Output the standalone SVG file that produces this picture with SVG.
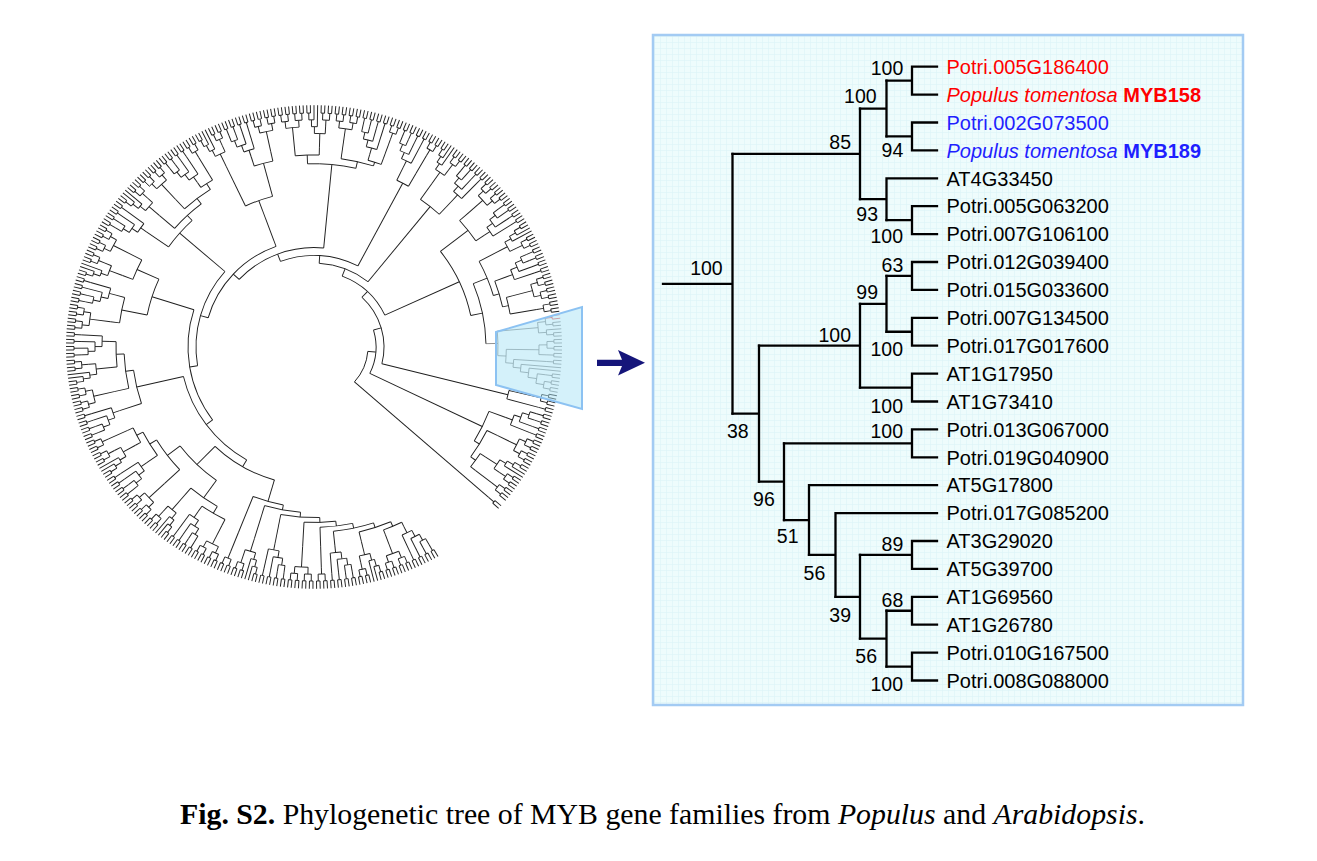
<svg xmlns="http://www.w3.org/2000/svg" width="1317" height="861" viewBox="0 0 1317 861">
<style>
.br{fill:none;stroke:#000;stroke-width:2.3;stroke-linecap:square}
.lb{font-family:"Liberation Sans",Arial,sans-serif;font-size:20px;fill:#000}
.bs{font-family:"Liberation Sans",Arial,sans-serif;font-size:19.5px;text-anchor:end;fill:#000}
.cap{font-family:"Liberation Serif","Times New Roman",serif;font-size:29.8px;fill:#000}
</style>
<defs>
<pattern id="grid" width="6" height="6" patternUnits="userSpaceOnUse">
<rect width="6" height="6" fill="#eefcfc"/>
<path d="M0,0.5H6M0.5,0V6" stroke="#dcf3f6" stroke-width="0.6" fill="none"/>
</pattern>
<g id="ch">
<path d="M240,0H248"/>
<path d="M240,0H248" transform="rotate(.84)"/>
<circle r="240" pathLength="360" stroke-dasharray=".84 400"/>
<path d="M233,0H240" transform="rotate(.42)"/>
</g>
<g id="q4">
<use href="#ch"/>
<use href="#ch" transform="rotate(1.68)"/>
<circle r="233" pathLength="360" stroke-dasharray="1.68 400" transform="rotate(.42)"/>
<path d="M226,0H233" transform="rotate(1.26)"/>
</g>
<g id="Q"><use href="#q4"/><path d="M205,0H226" transform="rotate(1.26)"/></g>
<g id="l4">
<use href="#ch"/>
<path d="M233,0H248" transform="rotate(1.68)"/>
<circle r="233" pathLength="360" stroke-dasharray="1.26 400" transform="rotate(.42)"/>
<path d="M226,0H233" transform="rotate(1.05)"/>
<path d="M226,0H248" transform="rotate(2.52)"/>
<circle r="226" pathLength="360" stroke-dasharray="1.47 400" transform="rotate(1.05)"/>
<path d="M219,0H226" transform="rotate(1.785)"/>
</g>
<g id="O">
<use href="#q4"/>
<use href="#q4" transform="rotate(3.36)"/>
<circle r="226" pathLength="360" stroke-dasharray="3.36 400" transform="rotate(1.26)"/>
<path d="M205,0H226" transform="rotate(2.94)"/>
</g>
<g id="P">
<use href="#l4"/>
<use href="#q4" transform="rotate(3.36)"/>
<path d="M219,0H226" transform="rotate(4.62)"/>
<circle r="219" pathLength="360" stroke-dasharray="2.835 400" transform="rotate(1.785)"/>
<path d="M205,0H219" transform="rotate(3.2)"/>
</g>
<g id="K">
<use href="#ch"/>
<use href="#ch" transform="rotate(1.68)"/>
<path d="M226,0H233" transform="rotate(.42)"/>
<path d="M226,0H233" transform="rotate(2.1)"/>
<circle r="226" pathLength="360" stroke-dasharray="1.68 400" transform="rotate(.42)"/>
<path d="M219,0H226" transform="rotate(1.26)"/>
<use href="#ch" transform="rotate(3.36)"/>
<path d="M219,0H233" transform="rotate(3.78)"/>
<circle r="219" pathLength="360" stroke-dasharray="2.52 400" transform="rotate(1.26)"/>
<path d="M212,0H219" transform="rotate(2.52)"/>
<use href="#ch" transform="rotate(5.04)"/>
<path d="M212,0H233" transform="rotate(5.46)"/>
<circle r="212" pathLength="360" stroke-dasharray="2.94 400" transform="rotate(2.52)"/>
<path d="M205,0H212" transform="rotate(3.99)"/>
</g>
</defs>
<rect width="1317" height="861" fill="#fff"/>

<g id="circular-tree" fill="none" stroke="#1e1e1e" stroke-width=".95" transform="translate(314 347) scale(1 0.975) rotate(1.5)">
<g id="clade-H">
<use href="#K" transform="rotate(58.5)"/><use href="#O" transform="rotate(65.22)"/><use href="#P" transform="rotate(71.94)"/><use href="#K" transform="rotate(78.66)"/><use href="#Q" transform="rotate(85.38)"/><use href="#O" transform="rotate(88.74)"/><use href="#K" transform="rotate(95.46)"/><use href="#P" transform="rotate(102.18)"/><use href="#Q" transform="rotate(108.9)"/>
<circle r="200" pathLength="360" stroke-dasharray="5.67 400" transform="rotate(62.49)"/><path d="M200,0H205" transform="rotate(62.49)"/><path d="M200,0H205" transform="rotate(68.16)"/>
<circle r="195" pathLength="360" stroke-dasharray="9.81 400" transform="rotate(65.33)"/><path d="M195,0H200" transform="rotate(65.33)"/><path d="M195,0H205" transform="rotate(75.14)"/>
<circle r="190" pathLength="360" stroke-dasharray="12.41 400" transform="rotate(70.24)"/><path d="M190,0H195" transform="rotate(70.24)"/><path d="M190,0H205" transform="rotate(82.65)"/>
<circle r="185" pathLength="360" stroke-dasharray="10.19 400" transform="rotate(76.45)"/><path d="M185,0H190" transform="rotate(76.45)"/><path d="M185,0H205" transform="rotate(86.64)"/>
<circle r="180" pathLength="360" stroke-dasharray="10.13 400" transform="rotate(81.55)"/><path d="M180,0H185" transform="rotate(81.55)"/><path d="M180,0H205" transform="rotate(91.68)"/>
<circle r="175" pathLength="360" stroke-dasharray="12.83 400" transform="rotate(86.62)"/><path d="M175,0H180" transform="rotate(86.62)"/><path d="M175,0H205" transform="rotate(99.45)"/>
<circle r="170" pathLength="360" stroke-dasharray="12.34 400" transform="rotate(93.04)"/><path d="M170,0H175" transform="rotate(93.04)"/><path d="M170,0H205" transform="rotate(105.38)"/>
<circle r="165" pathLength="360" stroke-dasharray="10.95 400" transform="rotate(99.21)"/><path d="M165,0H170" transform="rotate(99.21)"/><path d="M165,0H205" transform="rotate(110.16)"/>
<path d="M142,0H165" transform="rotate(104.69)"/>
</g>
<g id="clade-G">
<use href="#O" transform="rotate(112.26)"/><use href="#K" transform="rotate(118.98)"/><use href="#P" transform="rotate(125.7)"/><use href="#O" transform="rotate(132.42)"/><use href="#K" transform="rotate(139.14)"/><use href="#P" transform="rotate(145.86)"/><use href="#Q" transform="rotate(152.58)"/>
<circle r="198" pathLength="360" stroke-dasharray="7.77 400" transform="rotate(115.2)"/><path d="M198,0H205" transform="rotate(115.2)"/><path d="M198,0H205" transform="rotate(122.97)"/>
<circle r="190" pathLength="360" stroke-dasharray="9.81 400" transform="rotate(119.09)"/><path d="M190,0H198" transform="rotate(119.09)"/><path d="M190,0H205" transform="rotate(128.9)"/>
<circle r="199" pathLength="360" stroke-dasharray="4.78 400" transform="rotate(149.06)"/><path d="M199,0H205" transform="rotate(149.06)"/><path d="M199,0H205" transform="rotate(153.84)"/>
<circle r="192" pathLength="360" stroke-dasharray="8.32 400" transform="rotate(143.13)"/><path d="M192,0H205" transform="rotate(143.13)"/><path d="M192,0H199" transform="rotate(151.45)"/>
<circle r="184" pathLength="360" stroke-dasharray="11.93 400" transform="rotate(135.36)"/><path d="M184,0H205" transform="rotate(135.36)"/><path d="M184,0H192" transform="rotate(147.29)"/>
<circle r="168" pathLength="360" stroke-dasharray="17.33 400" transform="rotate(124)"/><path d="M168,0H190" transform="rotate(124)"/><path d="M168,0H184" transform="rotate(141.33)"/>
<path d="M142,0H168" transform="rotate(132.67)"/>
</g>
<g id="clade-F3">
<use href="#K" transform="rotate(155.94)"/><use href="#O" transform="rotate(162.66)"/><use href="#P" transform="rotate(169.38)"/><use href="#K" transform="rotate(176.1)"/>
<circle r="198" pathLength="360" stroke-dasharray="7.51 400" transform="rotate(172.58)"/><path d="M198,0H205" transform="rotate(172.58)"/><path d="M198,0H205" transform="rotate(180.09)"/>
<circle r="190" pathLength="360" stroke-dasharray="10.74 400" transform="rotate(165.6)"/><path d="M190,0H205" transform="rotate(165.6)"/><path d="M190,0H198" transform="rotate(176.34)"/>
<circle r="182" pathLength="360" stroke-dasharray="11.04 400" transform="rotate(159.93)"/><path d="M182,0H205" transform="rotate(159.93)"/><path d="M182,0H190" transform="rotate(170.97)"/>
<path d="M134,0H182" transform="rotate(165.45)"/>
</g>
<g id="clade-F2">
<use href="#O" transform="rotate(182.82)"/><use href="#K" transform="rotate(189.54)"/><use href="#P" transform="rotate(196.26)"/><use href="#O" transform="rotate(202.98)"/>
<circle r="196" pathLength="360" stroke-dasharray="7.77 400" transform="rotate(185.76)"/><path d="M196,0H205" transform="rotate(185.76)"/><path d="M196,0H205" transform="rotate(193.53)"/>
<circle r="194" pathLength="360" stroke-dasharray="6.46 400" transform="rotate(199.46)"/><path d="M194,0H205" transform="rotate(199.46)"/><path d="M194,0H205" transform="rotate(205.92)"/>
<circle r="170" pathLength="360" stroke-dasharray="13.04 400" transform="rotate(189.65)"/><path d="M170,0H196" transform="rotate(189.65)"/><path d="M170,0H194" transform="rotate(202.69)"/>
<path d="M126,0H170" transform="rotate(196.17)"/>
</g>
<g id="clade-F1">
<use href="#K" transform="rotate(209.7)"/><use href="#P" transform="rotate(216.42)"/><use href="#O" transform="rotate(223.14)"/><use href="#K" transform="rotate(229.86)"/><use href="#Q" transform="rotate(236.58)"/>
<circle r="199" pathLength="360" stroke-dasharray="3.99 400" transform="rotate(233.85)"/><path d="M199,0H205" transform="rotate(233.85)"/><path d="M199,0H205" transform="rotate(237.84)"/>
<circle r="192" pathLength="360" stroke-dasharray="9.77 400" transform="rotate(226.08)"/><path d="M192,0H205" transform="rotate(226.08)"/><path d="M192,0H199" transform="rotate(235.85)"/>
<circle r="185" pathLength="360" stroke-dasharray="11.35 400" transform="rotate(219.62)"/><path d="M185,0H205" transform="rotate(219.62)"/><path d="M185,0H192" transform="rotate(230.97)"/>
<circle r="178" pathLength="360" stroke-dasharray="11.61 400" transform="rotate(213.69)"/><path d="M178,0H205" transform="rotate(213.69)"/><path d="M178,0H185" transform="rotate(225.3)"/>
<path d="M118,0H178" transform="rotate(219.5)"/>
</g>
<g id="clade-E">
<use href="#P" transform="rotate(239.94)"/><use href="#K" transform="rotate(246.66)"/><use href="#O" transform="rotate(253.38)"/>
<circle r="195" pathLength="360" stroke-dasharray="5.67 400" transform="rotate(250.65)"/><path d="M195,0H205" transform="rotate(250.65)"/><path d="M195,0H205" transform="rotate(256.32)"/>
<circle r="160" pathLength="360" stroke-dasharray="10.35 400" transform="rotate(243.14)"/><path d="M160,0H205" transform="rotate(243.14)"/><path d="M160,0H195" transform="rotate(253.49)"/>
<path d="M110,0H160" transform="rotate(248.32)"/>
</g>
<g id="clade-D">
<use href="#O" transform="rotate(260.1)"/><use href="#P" transform="rotate(266.82)"/><use href="#O" transform="rotate(273.54)"/><use href="#K" transform="rotate(280.26)"/><use href="#Q" transform="rotate(286.98)"/>
<circle r="197" pathLength="360" stroke-dasharray="6.98 400" transform="rotate(263.04)"/><path d="M197,0H205" transform="rotate(263.04)"/><path d="M197,0H205" transform="rotate(270.02)"/>
<circle r="199" pathLength="360" stroke-dasharray="3.99 400" transform="rotate(284.25)"/><path d="M199,0H205" transform="rotate(284.25)"/><path d="M199,0H205" transform="rotate(288.24)"/>
<circle r="195" pathLength="360" stroke-dasharray="9.77 400" transform="rotate(276.48)"/><path d="M195,0H205" transform="rotate(276.48)"/><path d="M195,0H199" transform="rotate(286.25)"/>
<circle r="188" pathLength="360" stroke-dasharray="14.84 400" transform="rotate(266.53)"/><path d="M188,0H197" transform="rotate(266.53)"/><path d="M188,0H195" transform="rotate(281.37)"/>
<path d="M102,0H188" transform="rotate(273.95)"/>
</g>
<g id="clade-C">
<use href="#K" transform="rotate(290.34)"/><use href="#Q" transform="rotate(297.06)"/>
<circle r="190" pathLength="360" stroke-dasharray="3.99 400" transform="rotate(294.33)"/><path d="M190,0H205" transform="rotate(294.33)"/><path d="M190,0H205" transform="rotate(298.32)"/>
<path d="M94,0H190" transform="rotate(296.33)"/>
<use href="#P" transform="rotate(300.42)"/><use href="#K" transform="rotate(307.14)"/>
<circle r="185" pathLength="360" stroke-dasharray="7.51 400" transform="rotate(303.62)"/><path d="M185,0H205" transform="rotate(303.62)"/><path d="M185,0H205" transform="rotate(311.13)"/>
<path d="M86,0H185" transform="rotate(307.38)"/>
</g>
<g id="clade-B">
<use href="#O" transform="rotate(313.86)"/><use href="#K" transform="rotate(320.58)"/><use href="#P" transform="rotate(327.3)"/><use href="#K" transform="rotate(334.02)"/><use href="#O" transform="rotate(340.74)"/><use href="#Q" transform="rotate(347.46)"/>
<circle r="195" pathLength="360" stroke-dasharray="7.77 400" transform="rotate(316.8)"/><path d="M195,0H205" transform="rotate(316.8)"/><path d="M195,0H205" transform="rotate(324.57)"/>
<circle r="199" pathLength="360" stroke-dasharray="5.04 400" transform="rotate(343.68)"/><path d="M199,0H205" transform="rotate(343.68)"/><path d="M199,0H205" transform="rotate(348.72)"/>
<circle r="193" pathLength="360" stroke-dasharray="8.19 400" transform="rotate(338.01)"/><path d="M193,0H205" transform="rotate(338.01)"/><path d="M193,0H199" transform="rotate(346.2)"/>
<circle r="187" pathLength="360" stroke-dasharray="11.61 400" transform="rotate(330.5)"/><path d="M187,0H205" transform="rotate(330.5)"/><path d="M187,0H193" transform="rotate(342.11)"/>
<circle r="172" pathLength="360" stroke-dasharray="21.05 400" transform="rotate(336.31)"/><path d="M172,0H187" transform="rotate(336.31)"/>
<circle r="160" pathLength="360" stroke-dasharray="26.15 400" transform="rotate(320.69)"/><path d="M160,0H195" transform="rotate(320.69)"/><path d="M160,0H172" transform="rotate(346.84)"/>
<path d="M78,0H160" transform="rotate(333.76)"/>
</g>
<g id="clade-T" stroke="#6a6a6a" stroke-width=".75">
<path d="M172,0H184" transform="rotate(357.36)"/>
<circle r="184" pathLength="360" stroke-dasharray="7.825 400" transform="rotate(353.445)"/>
<use href="#ch" transform="rotate(350.82)" stroke="#e0302a"/>
<use href="#ch" transform="rotate(352.5)"/><use href="#ch" transform="rotate(355.02)"/><use href="#ch" transform="rotate(356.7)"/><use href="#ch" transform="rotate(358.38)"/><use href="#ch" transform="rotate(360.06)"/><use href="#ch" transform="rotate(361.74)"/><use href="#ch" transform="rotate(365.1)"/><use href="#ch" transform="rotate(366.78)"/><use href="#ch" transform="rotate(368.46)"/>
<path d="M233,0H248" transform="rotate(354.18)"/><path d="M207.9,0H248" transform="rotate(363.42)"/><path d="M216.2,0H248" transform="rotate(364.26)"/>
<circle r="233" pathLength="360" stroke-dasharray="1.68 400" transform="rotate(351.24)"/><path d="M225,0H233" transform="rotate(352.08)"/>
<circle r="233" pathLength="360" stroke-dasharray="1.26 400" transform="rotate(354.18)"/><path d="M225,0H233" transform="rotate(354.81)"/>
<circle r="225" pathLength="360" stroke-dasharray="2.73 400" transform="rotate(352.08)"/><path d="M184,0H225" transform="rotate(353.445)"/>
<circle r="233" pathLength="360" stroke-dasharray="1.68 400" transform="rotate(357.12)"/><path d="M225,0H233" transform="rotate(357.96)"/>
<path d="M225,0H233" transform="rotate(360.48)"/>
<circle r="225" pathLength="360" stroke-dasharray="2.52 400" transform="rotate(357.96)"/><path d="M192.3,0H225" transform="rotate(359.22)"/>
<path d="M200.1,0H233" transform="rotate(362.16)"/>
<path d="M225,0H233" transform="rotate(365.52)"/>
<circle r="233" pathLength="360" stroke-dasharray="1.68 400" transform="rotate(367.2)"/><path d="M225,0H233" transform="rotate(368.04)"/>
<circle r="225" pathLength="360" stroke-dasharray="2.52 400" transform="rotate(365.52)"/><path d="M216.2,0H225" transform="rotate(366.78)"/>
<circle r="216.2" pathLength="360" stroke-dasharray="2.52 400" transform="rotate(364.26)"/><path d="M207.9,0H216.2" transform="rotate(365.52)"/>
<circle r="207.9" pathLength="360" stroke-dasharray="2.1 400" transform="rotate(363.42)"/><path d="M200.1,0H207.9" transform="rotate(364.47)"/>
<circle r="200.1" pathLength="360" stroke-dasharray="2.31 400" transform="rotate(362.16)"/><path d="M192.3,0H200.1" transform="rotate(363.315)"/>
<circle r="192.3" pathLength="360" stroke-dasharray="4.095 400" transform="rotate(359.22)"/><path d="M184,0H192.3" transform="rotate(361.27)"/>
</g>
<g id="clade-A">
<use href="#Q" transform="rotate(370.14)"/><use href="#ch" transform="rotate(373.5)"/>
<circle r="200" pathLength="360" stroke-dasharray="2.52 400" transform="rotate(371.4)"/><path d="M200,0H205" transform="rotate(371.4)"/><path d="M200,0H233" transform="rotate(373.92)"/>
<path d="M70,0H200" transform="rotate(372.66)"/>
<use href="#K" transform="rotate(375.18)"/><use href="#O" transform="rotate(381.9)"/><use href="#P" transform="rotate(388.62)"/><use href="#Q" transform="rotate(395.34)"/>
<circle r="199" pathLength="360" stroke-dasharray="4.78 400" transform="rotate(391.82)"/><path d="M199,0H205" transform="rotate(391.82)"/><path d="M199,0H205" transform="rotate(396.6)"/>
<circle r="193" pathLength="360" stroke-dasharray="9.37 400" transform="rotate(384.84)"/><path d="M193,0H205" transform="rotate(384.84)"/><path d="M193,0H199" transform="rotate(394.21)"/>
<circle r="187" pathLength="360" stroke-dasharray="10.355 400" transform="rotate(379.17)"/><path d="M187,0H205" transform="rotate(379.17)"/><path d="M187,0H193" transform="rotate(389.525)"/>
<path d="M62,0H187" transform="rotate(384.35)"/>
<use href="#ch" transform="rotate(399.54)"/><path d="M54,0H233" transform="rotate(399.96)"/>
</g>
<g id="backbone">
<circle r="142" pathLength="360" stroke-dasharray="27.98 400" transform="rotate(104.69)"/><path d="M134,0H142" transform="rotate(118.68)"/>
<circle r="134" pathLength="360" stroke-dasharray="46.77 400" transform="rotate(118.68)"/><path d="M126,0H134" transform="rotate(142.07)"/>
<circle r="126" pathLength="360" stroke-dasharray="54.1 400" transform="rotate(142.07)"/><path d="M118,0H126" transform="rotate(169.12)"/>
<circle r="118" pathLength="360" stroke-dasharray="50.38 400" transform="rotate(169.12)"/><path d="M110,0H118" transform="rotate(194.31)"/>
<circle r="110" pathLength="360" stroke-dasharray="54.01 400" transform="rotate(194.31)"/><path d="M102,0H110" transform="rotate(221.3)"/>
<circle r="102" pathLength="360" stroke-dasharray="52.65 400" transform="rotate(221.3)"/><path d="M94,0H102" transform="rotate(247.6)"/>
<circle r="94" pathLength="360" stroke-dasharray="48.73 400" transform="rotate(247.6)"/><path d="M86,0H94" transform="rotate(271.97)"/>
<circle r="86" pathLength="360" stroke-dasharray="35.41 400" transform="rotate(271.97)"/><path d="M78,0H86" transform="rotate(289.67)"/>
<circle r="78" pathLength="360" stroke-dasharray="44.09 400" transform="rotate(289.67)"/><path d="M70,0H78" transform="rotate(311.7)"/>
<circle r="70" pathLength="360" stroke-dasharray="60.96 400" transform="rotate(311.7)"/><path d="M62,0H70" transform="rotate(342.2)"/>
<circle r="62" pathLength="360" stroke-dasharray="42.15 400" transform="rotate(342.2)"/><path d="M54,0H62" transform="rotate(363.3)"/>
<circle r="54" pathLength="360" stroke-dasharray="36.66 400" transform="rotate(363.3)"/>
</g>
</g>

<polygon id="zoom-region" points="496,332 582,307 582,409 496,385" fill="#a9e3f6" fill-opacity=".5" stroke="#8cc2f2" stroke-width="2"/>

<g id="arrow">
<path d="M597,359.7H622L618,350L645,362.8L618,375.5L622,366H597Z" fill="#15157a"/>
</g>

<g id="panel">
<rect x="653" y="35" width="590" height="670" fill="url(#grid)" stroke="#a3cbf3" stroke-width="2.5"/>
<g id="connectors" class="br">
<path d="M663,283.8H732.5M732.5,153.9V413.7"/>
<path d="M732.5,153.9H860M860,108.55V199.2"/>
<path d="M860,108.55H886.5M886.5,80.65V136.45"/>
<path d="M886.5,80.65H912M912,66.7V94.6M912,66.7H937M912,94.6H937"/>
<path d="M886.5,136.45H912M912,122.5V150.4M912,122.5H937M912,150.4H937"/>
<path d="M860,199.2H886.5M886.5,178.3V220.15M886.5,178.3H937"/>
<path d="M886.5,220.15H912M912,206.2V234.1M912,206.2H937M912,234.1H937"/>
<path d="M732.5,413.7H759M759,345.7V481.7"/>
<path d="M759,345.7H860M860,303.85V387.55"/>
<path d="M860,303.85H886.5M886.5,275.95V331.75"/>
<path d="M886.5,275.95H912M912,262V289.9M912,262H937M912,289.9H937"/>
<path d="M886.5,331.75H912M912,317.8V345.7M912,317.8H937M912,345.7H937"/>
<path d="M860,387.55H912M912,373.6V401.5M912,373.6H937M912,401.5H937"/>
<path d="M759,481.7H784M784,443.35V520.1"/>
<path d="M784,443.35H912M912,429.4V457.3M912,429.4H937M912,457.3H937"/>
<path d="M784,520.1H809M809,485.2V554.95M809,485.2H937"/>
<path d="M809,554.95H835.5M835.5,513.1V596.8M835.5,513.1H937"/>
<path d="M835.5,596.8H860M860,554.95V638.65"/>
<path d="M860,554.95H912M912,541V568.9M912,541H937M912,568.9H937"/>
<path d="M860,638.65H886.5M886.5,610.75V666.55"/>
<path d="M886.5,610.75H912M912,596.8V624.7M912,596.8H937M912,624.7H937"/>
<path d="M886.5,666.55H912M912,652.6V680.5M912,652.6H937M912,680.5H937"/>
</g>
<g id="support-values" class="bs">
<text x="903.3" y="75">100</text>
<text x="876.6" y="103.3">100</text>
<text x="851" y="149">85</text>
<text x="903.3" y="157">94</text>
<text x="878" y="221">93</text>
<text x="903" y="242.5">100</text>
<text x="722.7" y="275">100</text>
<text x="903.3" y="271.7">63</text>
<text x="878" y="299.3">99</text>
<text x="851" y="341.7">100</text>
<text x="903" y="356">100</text>
<text x="903" y="412.7">100</text>
<text x="748.7" y="438.3">38</text>
<text x="903" y="438.3">100</text>
<text x="774.8" y="506">96</text>
<text x="798.5" y="543.3">51</text>
<text x="903.3" y="550.7">89</text>
<text x="825.3" y="580">56</text>
<text x="903.3" y="606.7">68</text>
<text x="851" y="621.7">39</text>
<text x="877" y="663.3">56</text>
<text x="903" y="690.7">100</text>
</g>
<g id="leaf-Potri005G186400"><text class="lb" x="946.5" y="73.9" style="fill:#ff0000">Potri.005G186400</text></g>
<g id="leaf-PtMYB158"><text class="lb" x="946.5" y="101.8" style="fill:#ff0000"><tspan font-style="italic">Populus tomentosa</tspan> <tspan font-weight="bold">MYB158</tspan></text></g>
<g id="leaf-Potri002G073500"><text class="lb" x="946.5" y="129.7" style="fill:#1f1fff">Potri.002G073500</text></g>
<g id="leaf-PtMYB189"><text class="lb" x="946.5" y="157.6" style="fill:#1f1fff"><tspan font-style="italic">Populus tomentosa</tspan> <tspan font-weight="bold">MYB189</tspan></text></g>
<g id="leaf-AT4G33450"><text class="lb" x="946.5" y="185.5">AT4G33450</text></g>
<g id="leaf-Potri005G063200"><text class="lb" x="946.5" y="213.4">Potri.005G063200</text></g>
<g id="leaf-Potri007G106100"><text class="lb" x="946.5" y="241.3">Potri.007G106100</text></g>
<g id="leaf-Potri012G039400"><text class="lb" x="946.5" y="269.2">Potri.012G039400</text></g>
<g id="leaf-Potri015G033600"><text class="lb" x="946.5" y="297.1">Potri.015G033600</text></g>
<g id="leaf-Potri007G134500"><text class="lb" x="946.5" y="325">Potri.007G134500</text></g>
<g id="leaf-Potri017G017600"><text class="lb" x="946.5" y="352.9">Potri.017G017600</text></g>
<g id="leaf-AT1G17950"><text class="lb" x="946.5" y="380.8">AT1G17950</text></g>
<g id="leaf-AT1G73410"><text class="lb" x="946.5" y="408.7">AT1G73410</text></g>
<g id="leaf-Potri013G067000"><text class="lb" x="946.5" y="436.6">Potri.013G067000</text></g>
<g id="leaf-Potri019G040900"><text class="lb" x="946.5" y="464.5">Potri.019G040900</text></g>
<g id="leaf-AT5G17800"><text class="lb" x="946.5" y="492.4">AT5G17800</text></g>
<g id="leaf-Potri017G085200"><text class="lb" x="946.5" y="520.3">Potri.017G085200</text></g>
<g id="leaf-AT3G29020"><text class="lb" x="946.5" y="548.2">AT3G29020</text></g>
<g id="leaf-AT5G39700"><text class="lb" x="946.5" y="576.1">AT5G39700</text></g>
<g id="leaf-AT1G69560"><text class="lb" x="946.5" y="604">AT1G69560</text></g>
<g id="leaf-AT1G26780"><text class="lb" x="946.5" y="631.9">AT1G26780</text></g>
<g id="leaf-Potri010G167500"><text class="lb" x="946.5" y="659.8">Potri.010G167500</text></g>
<g id="leaf-Potri008G088000"><text class="lb" x="946.5" y="687.7">Potri.008G088000</text></g>
</g>

<g id="caption">
<text class="cap" x="180" y="824"><tspan font-weight="bold">Fig. S2.</tspan> Phylogenetic tree of MYB gene families from <tspan font-style="italic">Populus</tspan> and <tspan font-style="italic">Arabidopsis</tspan>.</text>
</g>
</svg>
